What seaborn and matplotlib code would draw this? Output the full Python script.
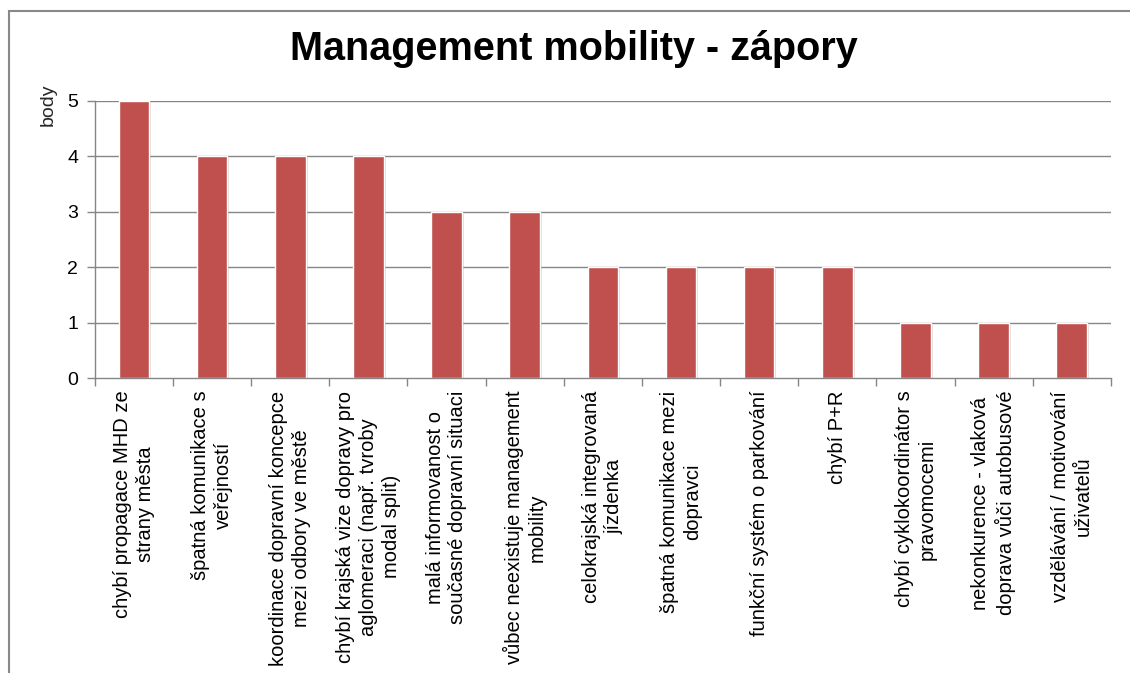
import matplotlib
matplotlib.use('Agg')
import matplotlib.pyplot as plt
import matplotlib.patheffects as pe
import seaborn as sns
import pandas as pd
import numpy as np

# labels as wrapped in the original chart
categories = [
    'chybí propagace MHD ze\nstrany města',
    'špatná komunikace s\nveřejností',
    'koordinace dopravní koncepce\nmezi odbory ve městě',
    'chybí krajská vize dopravy pro\naglomeraci (např. tvroby\nmodal split)',
    'malá informovanost o\nsoučasné dopravní situaci',
    'vůbec neexistuje management\nmobility',
    'celokrajská integrovaná\njízdenka',
    'špatná komunikace mezi\ndopravci',
    'funkční systém o parkování',
    'chybí P+R',
    'chybí cyklokoordinátor s\npravomocemi',
    'nekonkurence - vlaková\ndoprava vůči autobusové',
    'vzdělávání / motivování\nuživatelů',
]
body = [5, 4, 4, 4, 3, 3, 2, 2, 2, 2, 1, 1, 1]
y_ticks = [0, 1, 2, 3, 4, 5]

df = pd.DataFrame({'kategorie': categories, 'body': body})

sns.set_style('white')
plt.rcParams['font.family'] = ['Liberation Sans', 'DejaVu Sans']
plt.rcParams['text.color'] = 'black'
plt.rcParams['xtick.color'] = '#868686'
plt.rcParams['ytick.color'] = '#868686'
plt.rcParams['xtick.labelcolor'] = 'black'
plt.rcParams['ytick.labelcolor'] = 'black'

fig = plt.figure(figsize=(11.3, 6.73), dpi=100)
ax = fig.add_axes([0.084, 0.438, 0.899, 0.412])

grid_col = '#868686'
for y in y_ticks[1:]:
    ax.axhline(y, color=grid_col, lw=1, zorder=0)

sns.barplot(data=df, x='kategorie', y='body', color='#C0504D', width=0.39,
            saturation=1, ax=ax, zorder=2)
for bar in ax.patches:
    bar.set_path_effects([pe.SimplePatchShadow(offset=(1.5, -1.5), shadow_rgbFace='#999999', alpha=0.35),
                          pe.Normal()])

ax.set_ylim(0, 5)
ax.set_xlim(-0.5, len(categories) - 0.5)
ax.set_yticks(y_ticks)
ax.set_yticklabels([str(v) for v in y_ticks], fontsize=14)
ax.set_xticks(range(len(categories)))
ax.set_xticklabels(categories, rotation=90, fontsize=14.5, ha='center', va='top',
                   multialignment='center', linespacing=1.25)
ax.set_xticks(np.arange(-0.5, len(categories), 1), minor=True)
ax.tick_params(axis='x', which='major', length=0, pad=9, bottom=True)
ax.tick_params(axis='x', which='minor', length=6, width=1, color=grid_col,
               direction='out', bottom=True)
ax.tick_params(axis='y', length=6, width=1, color=grid_col, direction='out',
               pad=6, left=True)
ax.set_xlabel('')
ax.set_ylabel('body', fontsize=14)
ax.yaxis.set_label_coords(-0.038, 0.985)

for s in ['top', 'right']:
    ax.spines[s].set_visible(False)
for s in ['left', 'bottom']:
    ax.spines[s].set_color(grid_col)
    ax.spines[s].set_linewidth(1)

fig.text(0.508, 0.927, 'Management mobility - zápory', ha='center', va='center',
         fontsize=28.5, fontweight='bold', color='black')

# grey outer frame of the chart area (cut by the image edge)
frame = plt.Rectangle((0.008, -0.1), 1.1, 1.084, transform=fig.transFigure,
                      fill=False, edgecolor='#888888', lw=1.5)
fig.add_artist(frame)

fig.savefig('out.png', dpi=100)
